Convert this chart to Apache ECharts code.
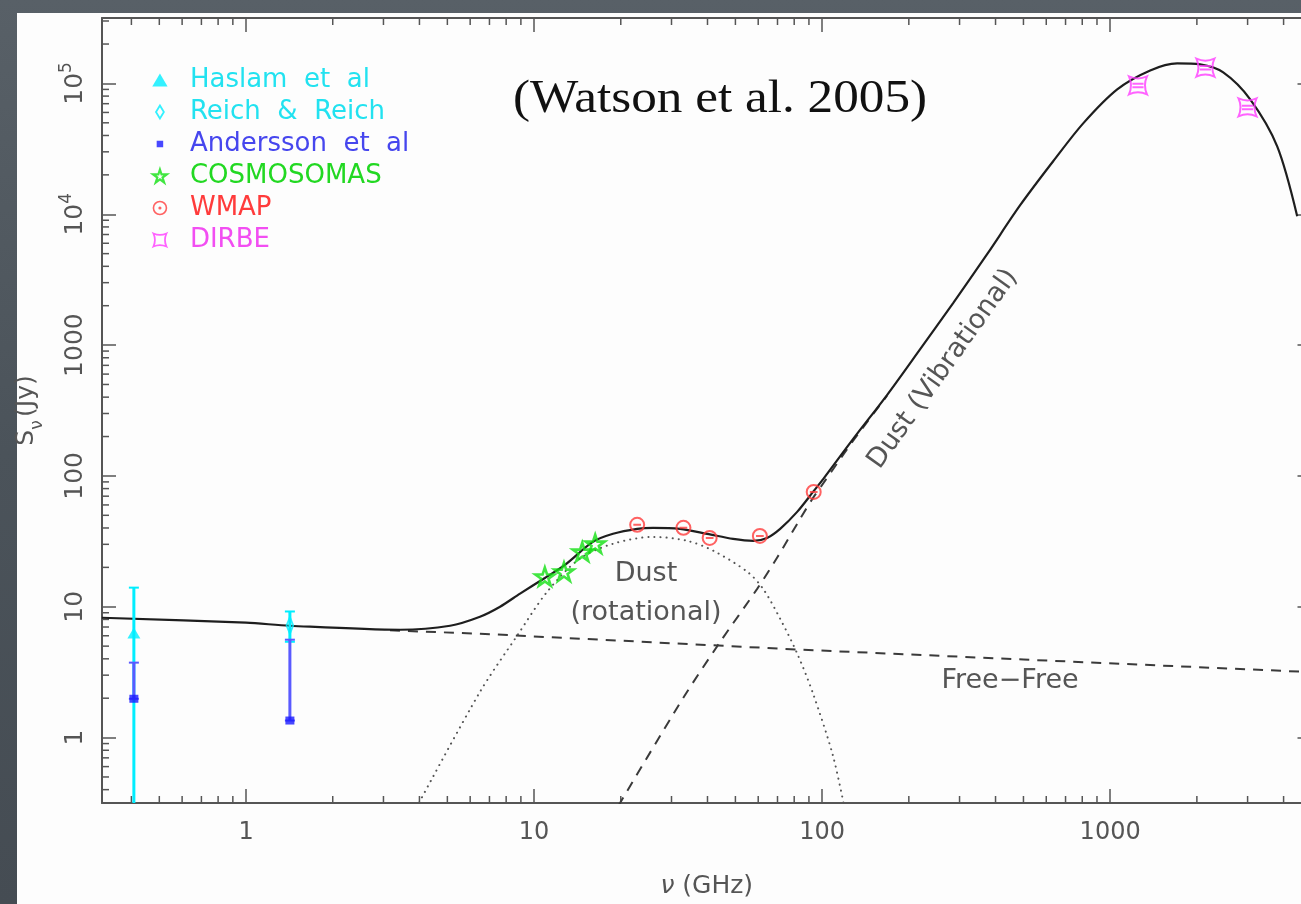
<!DOCTYPE html>
<html>
<head>
<meta charset="utf-8">
<script src="https://cdn.jsdelivr.net/npm/echarts@6/dist/echarts.min.js"></script>
<style>
html,body{margin:0;padding:0;width:1301px;height:904px;overflow:hidden;
background:linear-gradient(180deg,#586067 0%,#4b535a 50%,#454c53 100%);}
#chart{width:1320px;height:904px;}
</style>
</head>
<body>
<div id="chart"></div>
<script>
// ---------------- data ----------------
const xTickValues = [1, 10, 100, 1000];
const xTickLabels = ['1', '10', '100', '1000'];
const yTickValues = [1, 10, 100, 1000, 10000, 100000];
const yTickLabels = ['1', '10', '100', '1000', '10^4', '10^5'];

// observations: [GHz, Jy]
const haslam = [[0.408, 6.3]];
const haslamErr = [[0.408, 0.2, 14.0]];          // [GHz, low, high]
const reich = [[1.42, 7.2]];
const reichErr = [[1.42, 5.4, 9.2]];
const andersson = [[0.408, 1.98], [1.42, 1.35]];
const anderssonErr = [[0.408, 1.98, 3.74], [1.42, 1.35, 5.6]];
const cosmosomas = [[10.9, 17.0], [12.7, 18.5], [14.7, 26.3], [16.3, 30.3]];
const wmap = [[22.8, 42.3], [33.0, 40.1], [40.7, 33.6], [60.8, 34.8], [93.5, 75.5]];
const dirbe = [[1249, 96600], [2141, 132000], [2998, 65600]];

// model curves: [GHz, Jy]
const totalModel = [
  [0.316, 8.24], [1, 7.55], [1.42, 7.16], [3.43, 6.67], [5.11, 7.16], [6.49, 8.39],
  [7.62, 10.0], [8.94, 12.6], [10.9, 16.6], [12.8, 20.9], [16.0, 31.3], [18.8, 36.1],
  [22.8, 39.4], [25.9, 40.1], [32.1, 39.4], [39.9, 36.1], [49.1, 33.0], [57.6, 31.9],
  [64.4, 33.6], [71.5, 39.4], [81.9, 53.1], [93.0, 75.5], [101, 94.9], [128, 191],
  [168, 415], [219, 931], [285, 2094], [374, 4955], [487, 11720], [634, 25400],
  [806, 49500], [1058, 90000], [1377, 125600], [1708, 142200], [2053, 139600],
  [2469, 121300], [3063, 75500], [3801, 33000], [4460, 9660]
];
const freeFree = [[3.16, 6.6], [6.5, 6.22], [84, 4.70], [500, 3.95], [4600, 3.19]];
const dustRot = [
  [3.9, 0.29], [6.5, 2.25], [8.73, 6.0], [11.1, 13.0], [14.4, 23.3], [18.8, 30.3],
  [25.9, 34.2], [34.0, 31.9], [41.9, 26.8], [55.0, 18.5], [62.4, 13.7], [71.5, 8.1],
  [81.9, 4.4], [93, 2.17], [109, 0.73], [120, 0.28]
];
const dustVib = [
  [19.6, 0.30], [32.9, 2.0], [44.3, 5.4], [59.5, 13.7], [70, 24], [83.9, 47],
  [93, 68], [101, 88], [128, 185], [168, 410]
];

// ---------------- axes ranges & ticks ----------------
const X_MIN = Math.pow(10, -0.5), X_MAX = 5000;
const Y_MIN = Math.pow(10, -0.5), Y_MAX = Math.pow(10, 5.5);
const xMinorTicks = [], yMinorTicks = [];
for (let d = -1; d <= 3; d++) for (let k = 2; k <= 9; k++) { const v = k * Math.pow(10, d); if (v > X_MIN && v < X_MAX) xMinorTicks.push(v); }
for (let d = -1; d <= 5; d++) for (let k = 2; k <= 9; k++) { const v = k * Math.pow(10, d); if (v > Y_MIN && v < Y_MAX) yMinorTicks.push(v); }

// ---------------- styles ----------------
const FONT = 'DejaVu Sans';
const AX = '#555555';
const TXT = '#555555';
const C = {
  cyan: '#00eeff', cyanText: '#22e2f0',
  blue: '#1a1aff', blueBar: '#5a5aff', blueText: '#4646ee',
  green: '#11e011', greenText: '#22d822',
  red: '#ff3b3b', redText: '#ff3b3b',
  mag: '#ff3cff', magText: '#f24ef2'
};
const TRIANGLE = 'path://M0,-0.9L1,0.8L-1,0.8Z';
const STAR = 'path://M0,-1L0.2245,-0.309L0.951,-0.309L0.363,0.118L0.588,0.809L0,0.382L-0.588,0.809L-0.363,0.118L-0.951,-0.309L-0.2245,-0.309Z';
const DIAMOND = 'path://M0,-1.4L0.85,0L0,1.4L-0.85,0Z';
const CIRCLE_DASH = 'path://M0,-1A1,1 0 1,1 0,1A1,1 0 1,1 0,-1ZM-0.55,0L0.55,0';
const CIRCLE_DOT = 'path://M0,-1A1,1 0 1,1 0,1A1,1 0 1,1 0,-1ZM-0.12,0A0.12,0.12 0 1,1 0.12,0A0.12,0.12 0 1,1 -0.12,0Z';
const CONCAVE = 'path://M-1,-1Q0,-0.55 1,-1Q0.55,0 1,1Q0,0.55 -1,1Q-0.55,0 -1,-1Z';
const CONCAVE_BARS = 'path://M-1,-1Q0,-0.55 1,-1Q0.55,0 1,1Q0,0.55 -1,1Q-0.55,0 -1,-1ZM-0.62,-0.18L0.62,-0.18M-0.62,0.2L0.62,0.2';
const SMALL_SQUARE = 'path://M-1,-1L-1,-1M1,1L1,1M-0.5,-0.5L0.5,-0.5L0.5,0.5L-0.5,0.5Z';

function errorBar(color, lw, capTop, capBottom) {
  return function (params, api) {
    const x = api.value(0), lo = api.value(1), hi = api.value(2);
    const a = api.coord([x, lo]), b = api.coord([x, hi]);
    const ch = [{ type: 'line', shape: { x1: a[0], y1: a[1], x2: b[0], y2: b[1] }, style: { stroke: color, lineWidth: lw } }];
    if (capTop) ch.push({ type: 'line', shape: { x1: b[0] - 5, y1: b[1], x2: b[0] + 5, y2: b[1] }, style: { stroke: color, lineWidth: 2 } });
    if (capBottom) ch.push({ type: 'line', shape: { x1: a[0] - 5, y1: a[1], x2: a[0] + 5, y2: a[1] }, style: { stroke: color, lineWidth: 2 } });
    return { type: 'group', children: ch };
  };
}

function matchTick(vals, v) {
  for (let i = 0; i < vals.length; i++) if (Math.abs(Math.log10(v) - Math.log10(vals[i])) < 1e-6) return i;
  return -1;
}

const MINOR = 7;
const baseAxis = {
  type: 'log', logBase: 10,
  axisLine: { show: true, onZero: false, lineStyle: { color: AX, width: 2 } },
  axisTick: { show: true, inside: true, length: 14, lineStyle: { color: AX, width: 1.5 } },
  splitLine: { show: false },
  minorTick: { show: false }
};

const lineCommon = { type: 'line', showSymbol: false, symbol: 'none', silent: true, smooth: 0.3, clip: true, z: 3 };
const scatterCommon = { type: 'scatter', silent: true, symbolKeepAspect: true, z: 5 };

const option = {
  animation: false,
  backgroundColor: 'transparent',
  grid: { left: 102, top: 18, width: 1209.5, height: 787, containLabel: false },
  xAxis: [
    Object.assign({}, baseAxis, {
      position: 'bottom', min: X_MIN, max: X_MAX,
      axisLabel: {
        show: true, margin: 18, fontFamily: FONT, fontSize: 24, color: TXT,
        formatter: v => { const i = matchTick(xTickValues, v); return i < 0 ? '' : xTickLabels[i]; }
      },
      name: '{i|ν} (GHz)', nameLocation: 'middle', nameGap: 71,
      nameTextStyle: { fontFamily: FONT, fontSize: 25, color: TXT,
        rich: { i: { fontFamily: FONT, fontSize: 25, fontStyle: 'italic', color: TXT } } }
    }),
    Object.assign({}, baseAxis, { position: 'top', min: X_MIN, max: X_MAX, axisLabel: { show: false } })
  ],
  yAxis: [
    Object.assign({}, baseAxis, {
      position: 'left', min: Y_MIN, max: Y_MAX,
      axisLabel: {
        show: true, rotate: 90, margin: 10, color: TXT,
        formatter: v => {
          const i = matchTick(yTickValues, v);
          if (i < 0) return '';
          const s = yTickLabels[i];
          if (s.indexOf('^') >= 0) { const p = s.split('^'); return '{a|' + p[0] + '}{b|' + p[1] + '}'; }
          return '{a|' + s + '}';
        },
        rich: {
          a: { fontFamily: FONT, fontSize: 25, lineHeight: 34, color: TXT },
          b: { fontFamily: FONT, fontSize: 17, lineHeight: 17, verticalAlign: 'top', color: TXT }
        }
      },
      name: '{a|S}{b|ν} {a|(Jy)}', nameLocation: 'middle', nameGap: 56,
      nameTextStyle: { color: TXT,
        rich: {
          a: { fontFamily: FONT, fontSize: 25, lineHeight: 40, color: TXT },
          b: { fontFamily: FONT, fontSize: 17, lineHeight: 40, verticalAlign: 'bottom', color: TXT }
        } }
    }),
    Object.assign({}, baseAxis, { position: 'right', min: Y_MIN, max: Y_MAX, axisLabel: { show: false } })
  ],
  legend: {
    orient: 'vertical', left: 152, top: 66, padding: 0, itemGap: 4,
    itemWidth: 50, itemHeight: 13, selectedMode: false, symbolKeepAspect: true,
    textStyle: { fontFamily: FONT, fontSize: 26, lineHeight: 28 },
    formatter: n => n.replace(/ /g, '  '),
    data: [
      { name: 'Haslam et al', icon: TRIANGLE, itemStyle: { color: C.cyan, borderWidth: 0 }, textStyle: { color: C.cyanText } },
      { name: 'Reich & Reich', icon: DIAMOND, itemStyle: { color: 'rgba(0,0,0,0)', borderColor: C.cyan, borderWidth: 1.8 }, textStyle: { color: C.cyanText } },
      { name: 'Andersson et al', icon: SMALL_SQUARE, itemStyle: { color: C.blue, borderWidth: 0 }, textStyle: { color: C.blueText } },
      { name: 'COSMOSOMAS', icon: STAR, itemStyle: { color: 'rgba(0,0,0,0)', borderColor: C.green, borderWidth: 2.2 }, textStyle: { color: C.greenText } },
      { name: 'WMAP', icon: CIRCLE_DOT, itemStyle: { color: 'rgba(0,0,0,0)', borderColor: C.red, borderWidth: 1.6 }, textStyle: { color: C.redText } },
      { name: 'DIRBE', icon: CONCAVE, itemStyle: { color: 'rgba(0,0,0,0)', borderColor: C.mag, borderWidth: 1.8 }, textStyle: { color: C.magText } }
    ]
  },
  graphic: [
    { type: 'rect', z: -100, silent: true, shape: { x: 17, y: 13, width: 1310, height: 900 }, style: { fill: '#fdfdfd' } },
    { type: 'text', z: 100, silent: true, x: 513, y: 100, scaleX: 1.09,
      style: { text: '(Watson et al. 2005)', fontFamily: 'Liberation Serif', fontSize: 47, fill: '#111', align: 'left', verticalAlign: 'middle' } },
    { type: 'text', z: 100, silent: true, x: 646, y: 574,
      style: { text: 'Dust', fontFamily: FONT, fontSize: 27, fill: TXT, align: 'center', verticalAlign: 'middle' } },
    { type: 'text', z: 100, silent: true, x: 646, y: 613,
      style: { text: '(rotational)', fontFamily: FONT, fontSize: 27, fill: TXT, align: 'center', verticalAlign: 'middle' } },
    { type: 'text', z: 100, silent: true, x: 1010, y: 681,
      style: { text: 'Free\u2212Free', fontFamily: FONT, fontSize: 27, fill: TXT, align: 'center', verticalAlign: 'middle' } },
    { type: 'text', z: 100, silent: true, x: 943, y: 369, rotation: 54.5 * Math.PI / 180,
      style: { text: 'Dust (Vibrational)', fontFamily: FONT, fontSize: 27, fill: TXT, align: 'center', verticalAlign: 'middle' } }
  ],
  series: [
    { type: 'custom', name: 'haslamErr', silent: true, clip: true, z: 4, renderItem: errorBar(C.cyan, 3, true, false), encode: { x: 0, y: [1, 2] }, data: haslamErr },
    { type: 'custom', name: 'reichErr', silent: true, clip: true, z: 4, renderItem: errorBar(C.cyan, 3, true, true), encode: { x: 0, y: [1, 2] }, data: reichErr },
    { type: 'custom', name: 'anderssonErr', silent: true, clip: true, z: 4, renderItem: errorBar(C.blueBar, 3, true, true), encode: { x: 0, y: [1, 2] }, data: anderssonErr },

    Object.assign({}, lineCommon, { name: 'Free-Free', data: freeFree, smooth: false, lineStyle: { color: '#3a3a3a', width: 2, type: [10, 8] } }),
    Object.assign({}, lineCommon, { name: 'Dust (rotational)', data: dustRot, lineStyle: { color: '#555', width: 2, type: [0.1, 6], cap: 'round' } }),
    Object.assign({}, lineCommon, { name: 'Dust (Vibrational)', data: dustVib, lineStyle: { color: '#3a3a3a', width: 2, type: [10, 8] } }),
    Object.assign({}, lineCommon, { name: 'Total', data: totalModel, lineStyle: { color: '#1e1e1e', width: 2.2 } }),

    Object.assign({}, scatterCommon, { name: 'Haslam et al', data: haslam, symbol: TRIANGLE, symbolSize: 13, itemStyle: { color: C.cyan } }),
    Object.assign({}, scatterCommon, { name: 'Reich & Reich', data: reich, symbol: DIAMOND, symbolSize: [11, 17], itemStyle: { color: 'rgba(0,0,0,0)', borderColor: C.cyan, borderWidth: 2 } }),
    Object.assign({}, scatterCommon, { name: 'Andersson et al', data: andersson, symbol: 'rect', symbolSize: [9, 8], itemStyle: { color: C.blue } }),
    Object.assign({}, scatterCommon, { name: 'COSMOSOMAS', data: cosmosomas, symbol: STAR, symbolSize: 19, itemStyle: { color: 'rgba(0,0,0,0)', borderColor: C.green, borderWidth: 2.6 } }),
    Object.assign({}, scatterCommon, { name: 'WMAP', data: wmap, symbol: CIRCLE_DASH, symbolSize: 14, itemStyle: { color: 'rgba(0,0,0,0)', borderColor: C.red, borderWidth: 2 } }),
    Object.assign({}, scatterCommon, { name: 'DIRBE', data: dirbe, symbol: CONCAVE_BARS, symbolSize: 18, itemStyle: { color: 'rgba(0,0,0,0)', borderColor: C.mag, borderWidth: 2 } }),

    { type: 'custom', name: 'xMinor', silent: true, clip: false, z: 1, encode: { x: 0, y: 1 },
      data: xMinorTicks.map(v => [v, Y_MIN]),
      renderItem: (params, api) => {
        const v = api.value(0);
        const b = api.coord([v, Y_MIN]), t = api.coord([v, Y_MAX]);
        return { type: 'group', children: [
          { type: 'line', shape: { x1: b[0], y1: b[1], x2: b[0], y2: b[1] - MINOR }, style: { stroke: AX, lineWidth: 1.5 } },
          { type: 'line', shape: { x1: t[0], y1: t[1], x2: t[0], y2: t[1] + MINOR }, style: { stroke: AX, lineWidth: 1.5 } }
        ] };
      } },
    { type: 'custom', name: 'yMinor', silent: true, clip: false, z: 1, encode: { x: 0, y: 1 },
      data: yMinorTicks.map(v => [X_MIN, v]),
      renderItem: (params, api) => {
        const v = api.value(1);
        const l = api.coord([X_MIN, v]), r = api.coord([X_MAX, v]);
        return { type: 'group', children: [
          { type: 'line', shape: { x1: l[0], y1: l[1], x2: l[0] + MINOR, y2: l[1] }, style: { stroke: AX, lineWidth: 1.5 } },
          { type: 'line', shape: { x1: r[0], y1: r[1], x2: r[0] - MINOR, y2: r[1] }, style: { stroke: AX, lineWidth: 1.5 } }
        ] };
      } }
  ]
};

const chart = echarts.init(document.getElementById('chart'), null, { renderer: 'canvas' });
chart.setOption(option);
</script>
</body>
</html>
